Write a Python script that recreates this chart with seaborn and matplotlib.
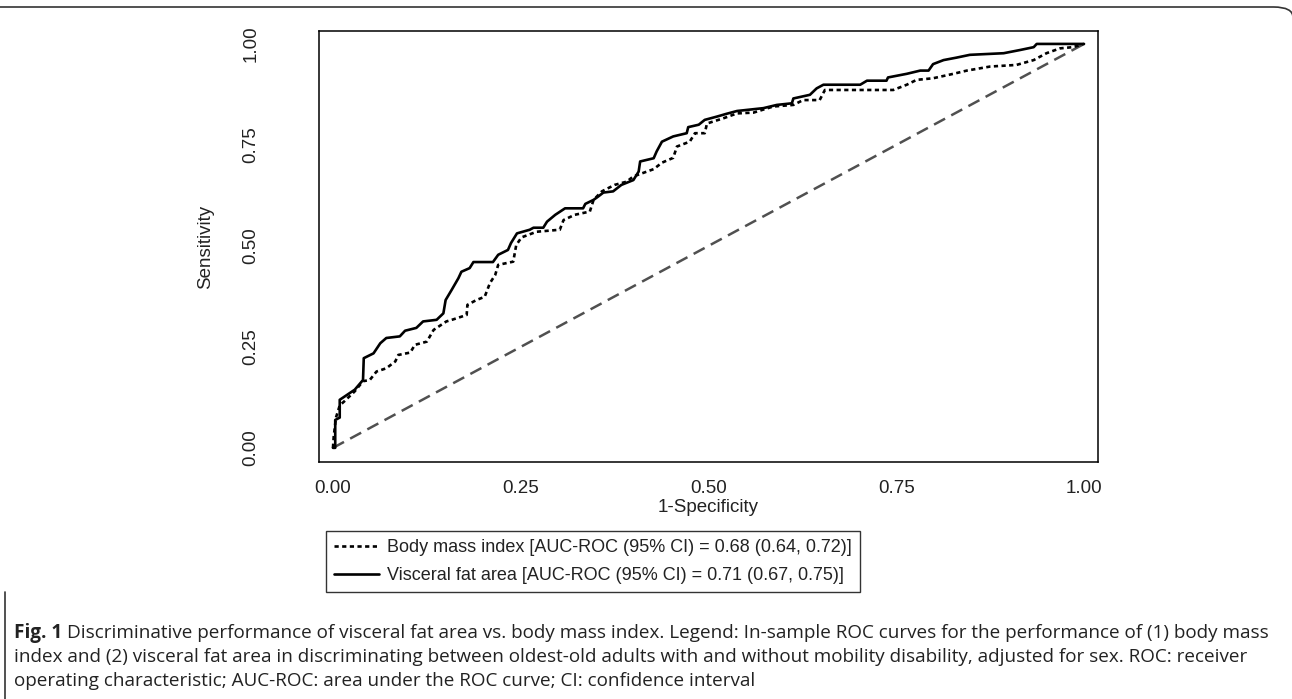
import numpy as np
import pandas as pd
import matplotlib
matplotlib.use("Agg")
import matplotlib.pyplot as plt
from matplotlib.lines import Line2D
from matplotlib.patches import FancyBboxPatch
import seaborn as sns

# ROC curve of body mass index (dotted line)
bmi_fpr = [0, 0.001, 0.004, 0.009, 0.015, 0.029, 0.040, 0.049, 0.058, 0.071, 0.083, 0.087,
           0.103, 0.109, 0.125, 0.134, 0.151, 0.160, 0.178, 0.179, 0.191, 0.202, 0.209, 0.216,
           0.220, 0.240, 0.244, 0.251, 0.271, 0.302, 0.307, 0.322, 0.342, 0.347, 0.358, 0.375,
           0.391, 0.400, 0.409, 0.427, 0.438, 0.453, 0.458, 0.475, 0.482, 0.495, 0.498, 0.520,
           0.538, 0.560, 0.586, 0.613, 0.626, 0.648, 0.655, 0.746, 0.764, 0.777, 0.799, 0.826,
           0.844, 0.875, 0.910, 0.933, 0.950, 0.968, 0.985, 1.0]
bmi_tpr = [0, 0.028, 0.075, 0.105, 0.115, 0.140, 0.165, 0.168, 0.189, 0.197, 0.214, 0.230,
           0.236, 0.255, 0.263, 0.292, 0.313, 0.318, 0.329, 0.354, 0.366, 0.374, 0.408, 0.428,
           0.453, 0.461, 0.502, 0.521, 0.535, 0.540, 0.564, 0.577, 0.585, 0.614, 0.635, 0.651,
           0.659, 0.672, 0.678, 0.690, 0.706, 0.718, 0.746, 0.758, 0.779, 0.779, 0.803, 0.816,
           0.828, 0.830, 0.845, 0.849, 0.861, 0.861, 0.886, 0.886, 0.899, 0.911, 0.915, 0.926,
           0.934, 0.944, 0.948, 0.960, 0.977, 0.989, 0.992, 1.0]

# ROC curve of visceral fat area (solid line)
vfa_fpr = [0, 0.003, 0.003, 0.009, 0.009, 0.029, 0.040, 0.041, 0.054, 0.063, 0.071, 0.089,
           0.096, 0.111, 0.120, 0.138, 0.147, 0.150, 0.158, 0.167, 0.171, 0.182, 0.187, 0.213,
           0.220, 0.233, 0.237, 0.245, 0.262, 0.267, 0.280, 0.285, 0.296, 0.309, 0.333, 0.336,
           0.347, 0.353, 0.360, 0.373, 0.384, 0.400, 0.407, 0.409, 0.427, 0.431, 0.438, 0.453,
           0.471, 0.473, 0.487, 0.495, 0.511, 0.524, 0.538, 0.573, 0.591, 0.611, 0.613, 0.635,
           0.644, 0.653, 0.702, 0.711, 0.737, 0.739, 0.764, 0.782, 0.793, 0.799, 0.813, 0.830,
           0.848, 0.893, 0.915, 0.933, 0.937, 1.0]
vfa_tpr = [0, 0, 0.069, 0.075, 0.119, 0.144, 0.168, 0.222, 0.234, 0.259, 0.272, 0.276,
           0.290, 0.297, 0.313, 0.317, 0.333, 0.366, 0.391, 0.420, 0.436, 0.445, 0.460, 0.460,
           0.478, 0.490, 0.507, 0.531, 0.540, 0.545, 0.545, 0.560, 0.577, 0.593, 0.593, 0.604,
           0.614, 0.622, 0.632, 0.635, 0.651, 0.663, 0.684, 0.709, 0.717, 0.734, 0.758, 0.771,
           0.779, 0.794, 0.800, 0.812, 0.820, 0.827, 0.834, 0.841, 0.849, 0.853, 0.865, 0.874,
           0.890, 0.899, 0.899, 0.909, 0.909, 0.917, 0.926, 0.934, 0.934, 0.950, 0.960, 0.966,
           0.973, 0.977, 0.985, 0.992, 1.0, 1.0]

# chance line
ref_x = [0, 1]
ref_y = [0, 1]

ticks = [0, 0.25, 0.5, 0.75, 1.0]
tick_labels = ["0.00", "0.25", "0.50", "0.75", "1.00"]

legend_labels = [
    "Body mass index [AUC-ROC (95% CI) = 0.68 (0.64, 0.72)]",
    "Visceral fat area [AUC-ROC (95% CI) = 0.71 (0.67, 0.75)]",
]

caption_bold = "Fig. 1"
caption_lines = [
    "Discriminative performance of visceral fat area vs. body mass index. Legend: In-sample ROC curves for the performance of (1) body mass",
    "index and (2) visceral fat area in discriminating between oldest-old adults with and without mobility disability, adjusted for sex. ROC: receiver",
    "operating characteristic; AUC-ROC: area under the ROC curve; CI: confidence interval",
]

sns.set_style("white")
plt.rcParams["font.family"] = ["Liberation Sans", "DejaVu Sans"]

W, H = 1292, 699
fig = plt.figure(figsize=(W / 100, H / 100), dpi=100)
ax = fig.add_axes([319 / W, 1 - 462 / H, (1098 - 319) / W, (462 - 31) / H])

roc = pd.concat([
    pd.DataFrame({"fpr": bmi_fpr, "tpr": bmi_tpr, "model": "bmi"}),
    pd.DataFrame({"fpr": vfa_fpr, "tpr": vfa_tpr, "model": "vfa"}),
])

dotted = (0, (1.6, 1.3))
sns.lineplot(x=ref_x, y=ref_y, color="#505050", lw=1.8, ls=(0, (5.0, 2.8)), ax=ax)
sns.lineplot(data=roc[roc.model == "bmi"], x="fpr", y="tpr", estimator=None, sort=False,
             color="black", lw=1.9, ls=dotted, ax=ax)
sns.lineplot(data=roc[roc.model == "vfa"], x="fpr", y="tpr", estimator=None, sort=False,
             color="black", lw=1.9, ax=ax)

ax.set_xlim(-0.0186, 1.0186)
ax.set_ylim(-0.035, 1.032)
ax.set_xticks(ticks)
ax.set_xticklabels(tick_labels)
ax.set_yticks(ticks)
ax.set_yticklabels(tick_labels, rotation=90, va="center")
ax.tick_params(axis="both", which="both", direction="out", length=7, width=1,
               color="black", labelsize=13.5, labelcolor="#222222")
ax.tick_params(axis="x", pad=6)
ax.tick_params(axis="y", pad=36)
for sp in ax.spines.values():
    sp.set_color("black")
    sp.set_linewidth(1.1)

ax.set_xlabel("1-Specificity", fontsize=13.5, color="#222222")
ax.set_ylabel("Sensitivity", fontsize=13.5, color="#222222")
ax.xaxis.set_label_coords(0.5, -(507 - 462) / (462 - 31))
ax.yaxis.set_label_coords(-(319 - 206) / (1098 - 319), 0.5)
ax.xaxis.label.set_va("center")
ax.yaxis.label.set_va("center")

handles = [
    Line2D([], [], color="black", lw=1.9, ls=dotted),
    Line2D([], [], color="black", lw=1.9),
]
leg = ax.legend(handles, legend_labels, loc="upper left",
                bbox_to_anchor=(326 / W, 1 - 531 / H), bbox_transform=fig.transFigure,
                borderaxespad=0, frameon=True, fancybox=False, edgecolor="black",
                fontsize=13, handlelength=2.5, handletextpad=0.45, labelspacing=0.6,
                borderpad=0.45)
leg.get_frame().set_linewidth(1.0)
for t in leg.get_texts():
    t.set_color("#222222")

# outer rounded box of the figure panel (its left and right sides fall outside the crop)
box = FancyBboxPatch((-30 / W, -0.05), (1293 + 30) / W, 1 - 7 / H + 0.05,
                     boxstyle="round,pad=0,rounding_size=0.015", transform=fig.transFigure,
                     fill=False, edgecolor="#333333", lw=1.2, clip_on=False)
fig.patches.append(box)
fig.add_artist(Line2D([5 / W, 5 / W], [0, 1 - 592 / H], transform=fig.transFigure,
                      color="#333333", lw=1.2))

# caption
cap_font = ["Open Sans", "DejaVu Sans"]
cap_size = 13.6
line_y = [633, 657, 681]
bold = fig.text(14 / W, 1 - line_y[0] / H, caption_bold, fontsize=cap_size,
                fontweight="bold", family=cap_font, va="center", color="#222222")
fig.canvas.draw()
bb = bold.get_window_extent()
fig.text((bb.x1 + 5) / W, 1 - line_y[0] / H, caption_lines[0], fontsize=cap_size,
         family=cap_font, va="center", color="#222222")
for txt, y in zip(caption_lines[1:], line_y[1:]):
    fig.text(14 / W, 1 - y / H, txt, fontsize=cap_size, family=cap_font,
             va="center", color="#222222")

fig.savefig("out.png", dpi=100)
